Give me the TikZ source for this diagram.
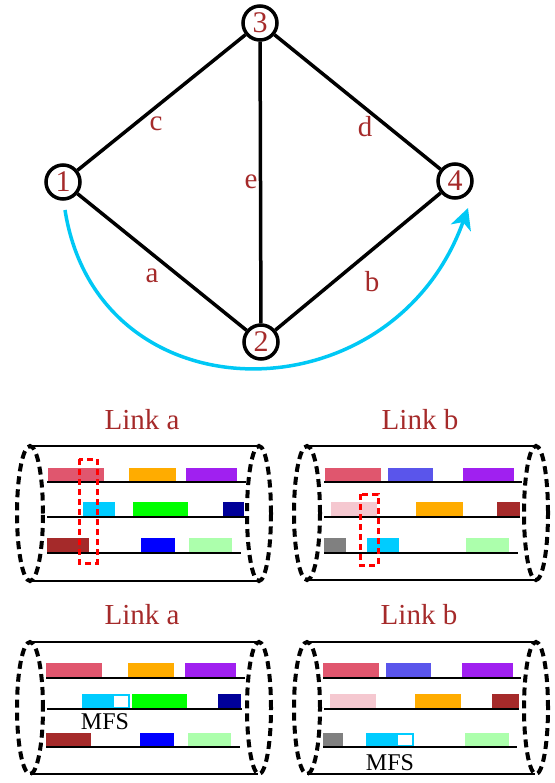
\documentclass[tikz,border=0pt]{standalone}
\usepackage{fontspec}
\setmainfont{Liberation Serif}
\usetikzlibrary{arrows.meta}
\definecolor{lbl}{RGB}{165,42,42}
\definecolor{arccol}{RGB}{0,200,245}
\definecolor{cRose}{RGB}{224,86,110}
\definecolor{cOrange}{RGB}{255,172,0}
\definecolor{cPurple}{RGB}{160,32,240}
\definecolor{cCyan}{RGB}{0,204,255}
\definecolor{cGreen}{RGB}{0,255,0}
\definecolor{cNavy}{RGB}{0,0,153}
\definecolor{cBrown}{RGB}{165,42,42}
\definecolor{cBlue}{RGB}{0,0,255}
\definecolor{cLGreen}{RGB}{172,255,172}
\definecolor{cSlate}{RGB}{90,85,235}
\definecolor{cLPink}{RGB}{245,200,208}
\definecolor{cGray}{RGB}{128,128,128}
\begin{document}
\begin{tikzpicture}[x=1pt,y=-1pt,
 vtx/.style={circle,draw,line width=3.5pt,minimum size=34pt,inner sep=0pt,font=\fontsize{30}{30}\selectfont,text=lbl,fill=white},
 elbl/.style={font=\fontsize{29}{29}\selectfont,text=lbl,inner sep=0pt},
 edge/.style={line width=3.5pt},
 arcline/.style={line width=3.5pt,draw=arccol,-{Stealth[length=21pt,width=21pt,inset=6pt]}},
 ttl/.style={font=\fontsize{29}{29}\selectfont,text=lbl,inner sep=0pt},
 tube/.style={line width=2.5pt},
 lane/.style={line width=2.5pt},
 capdash/.style={line width=4pt,dash pattern=on 8pt off 5pt},
 selbox/.style={draw=red,line width=3pt,dash pattern=on 6pt off 4pt},
 mfslbl/.style={font=\fontsize{24}{24}\selectfont,inner sep=0pt},
 mfsbox/.style={fill=white},
]
\useasboundingbox (0,0) rectangle (554,783);

% ---------- graph ----------
\node[vtx] (n1) at (63,182) {1};
\node[vtx] (n3) at (260,23) {3};
\node[vtx] (n2) at (261,342) {2};
\node[vtx] (n4) at (455,181) {4};
\draw[edge] (n1) -- (n3);
\draw[edge] (n1) -- (n2);
\draw[edge] (n3) -- (n2);
\draw[edge] (n3) -- (n4);
\draw[edge] (n2) -- (n4);
\node[elbl] (lc) at (156,124) {c};
\node[elbl] (le) at (251,182) {e};
\node[elbl] (ld) at (365,127) {d};
\node[elbl] (la) at (152,276) {a};
\node[elbl] (lb) at (372,282) {b};
\coordinate (arcS) at (65,210);
\coordinate (arcE) at (468,208);
\draw[arcline] (arcS) .. controls (98,420) and (392,420) .. (arcE);

% ---------- panel 1: Link a (top) ----------
\node[ttl] (t1) at (142,420) {Link a};
\draw[tube] (30,446) -- (258,446);
\draw[tube] (30,581) -- (258,581);
\fill[cRose] (48,468) rectangle (104,482);
\fill[cOrange] (129,468) rectangle (176,482);
\fill[cPurple] (186,468) rectangle (237,482);
\fill[cCyan] (83,502) rectangle (115,517);
\fill[cGreen] (133,502) rectangle (188,517);
\fill[cNavy] (223,502) rectangle (244,517);
\fill[cBrown] (47,538) rectangle (89,553);
\fill[cBlue] (141,538) rectangle (175,553);
\fill[cLGreen] (189,538) rectangle (232,553);
\draw[lane] (47,482) -- (246,482);
\draw[lane] (47,517) -- (245,517);
\draw[lane] (47,553) -- (241,553);
\draw[capdash] (30,513.5) ellipse [x radius=13pt, y radius=67.5pt];
\draw[capdash] (259,513.5) ellipse [x radius=12pt, y radius=67.5pt];
\draw[selbox] (79,459) rectangle (97,563);

% ---------- panel 2: Link b (top) ----------
\node[ttl] (t2) at (420,420) {Link b};
\draw[tube] (307,446) -- (535,446);
\draw[tube] (307,580) -- (535,580);
\fill[cRose] (325,468) rectangle (381,482);
\fill[cSlate] (388,468) rectangle (433,482);
\fill[cPurple] (463,468) rectangle (514,482);
\fill[cLPink] (331,502) rectangle (377,517);
\fill[cOrange] (416,502) rectangle (463,517);
\fill[cBrown] (497,502) rectangle (520,517);
\fill[cGray] (324,538) rectangle (346,553);
\fill[cCyan] (367,538) rectangle (399,553);
\fill[cLGreen] (466,538) rectangle (509,553);
\draw[lane] (324,482) -- (522,482);
\draw[lane] (324,517) -- (520,517);
\draw[lane] (324,553) -- (518,553);
\draw[capdash] (307,513) ellipse [x radius=13pt, y radius=67pt];
\draw[capdash] (536,513) ellipse [x radius=12pt, y radius=67pt];
\draw[selbox] (360,494) rectangle (378,565);

% ---------- panel 3: Link a (bottom) ----------
\node[ttl] (t3) at (142,615) {Link a};
\draw[tube] (30,642) -- (258,642);
\draw[tube] (30,774) -- (258,774);
\fill[cRose] (46,663) rectangle (102,678);
\fill[cOrange] (128,663) rectangle (174,678);
\fill[cPurple] (185,663) rectangle (236,678);
\fill[cCyan] (82,694) rectangle (130,709);
\fill[mfsbox] (114,696) rectangle (128,707);
\fill[cGreen] (132,694) rectangle (187,709);
\fill[cNavy] (218,694) rectangle (241,709);
\fill[cBrown] (46,733) rectangle (91,747);
\fill[cBlue] (140,733) rectangle (174,747);
\fill[cLGreen] (188,733) rectangle (231,747);
\draw[lane] (46,678) -- (245,678);
\draw[lane] (47,709) -- (242,709);
\draw[lane] (46,747) -- (240,747);
\node[mfslbl] (m1) at (105,722) {MFS};
\draw[capdash] (30,708) ellipse [x radius=13pt, y radius=66pt];
\draw[capdash] (259,708) ellipse [x radius=12pt, y radius=66pt];

% ---------- panel 4: Link b (bottom) ----------
\node[ttl] (t4) at (419,615) {Link b};
\draw[tube] (307,642) -- (535,642);
\draw[tube] (307,774) -- (535,774);
\fill[cRose] (323,663) rectangle (379,678);
\fill[cSlate] (386,663) rectangle (431,678);
\fill[cPurple] (462,663) rectangle (513,678);
\fill[cLPink] (330,694) rectangle (376,709);
\fill[cOrange] (415,694) rectangle (461,709);
\fill[cBrown] (492,694) rectangle (519,709);
\fill[cGray] (323,733) rectangle (343,747);
\fill[cCyan] (366,733) rectangle (414,747);
\fill[mfsbox] (398,735) rectangle (412,745);
\fill[cLGreen] (465,733) rectangle (509,747);
\draw[lane] (323,678) -- (521,678);
\draw[lane] (324,709) -- (519,709);
\draw[lane] (323,747) -- (517,747);
\node[mfslbl] (m2) at (390,763) {MFS};
\draw[capdash] (307,708) ellipse [x radius=13pt, y radius=66pt];
\draw[capdash] (536,708) ellipse [x radius=12pt, y radius=66pt];
\end{tikzpicture}
\end{document}
